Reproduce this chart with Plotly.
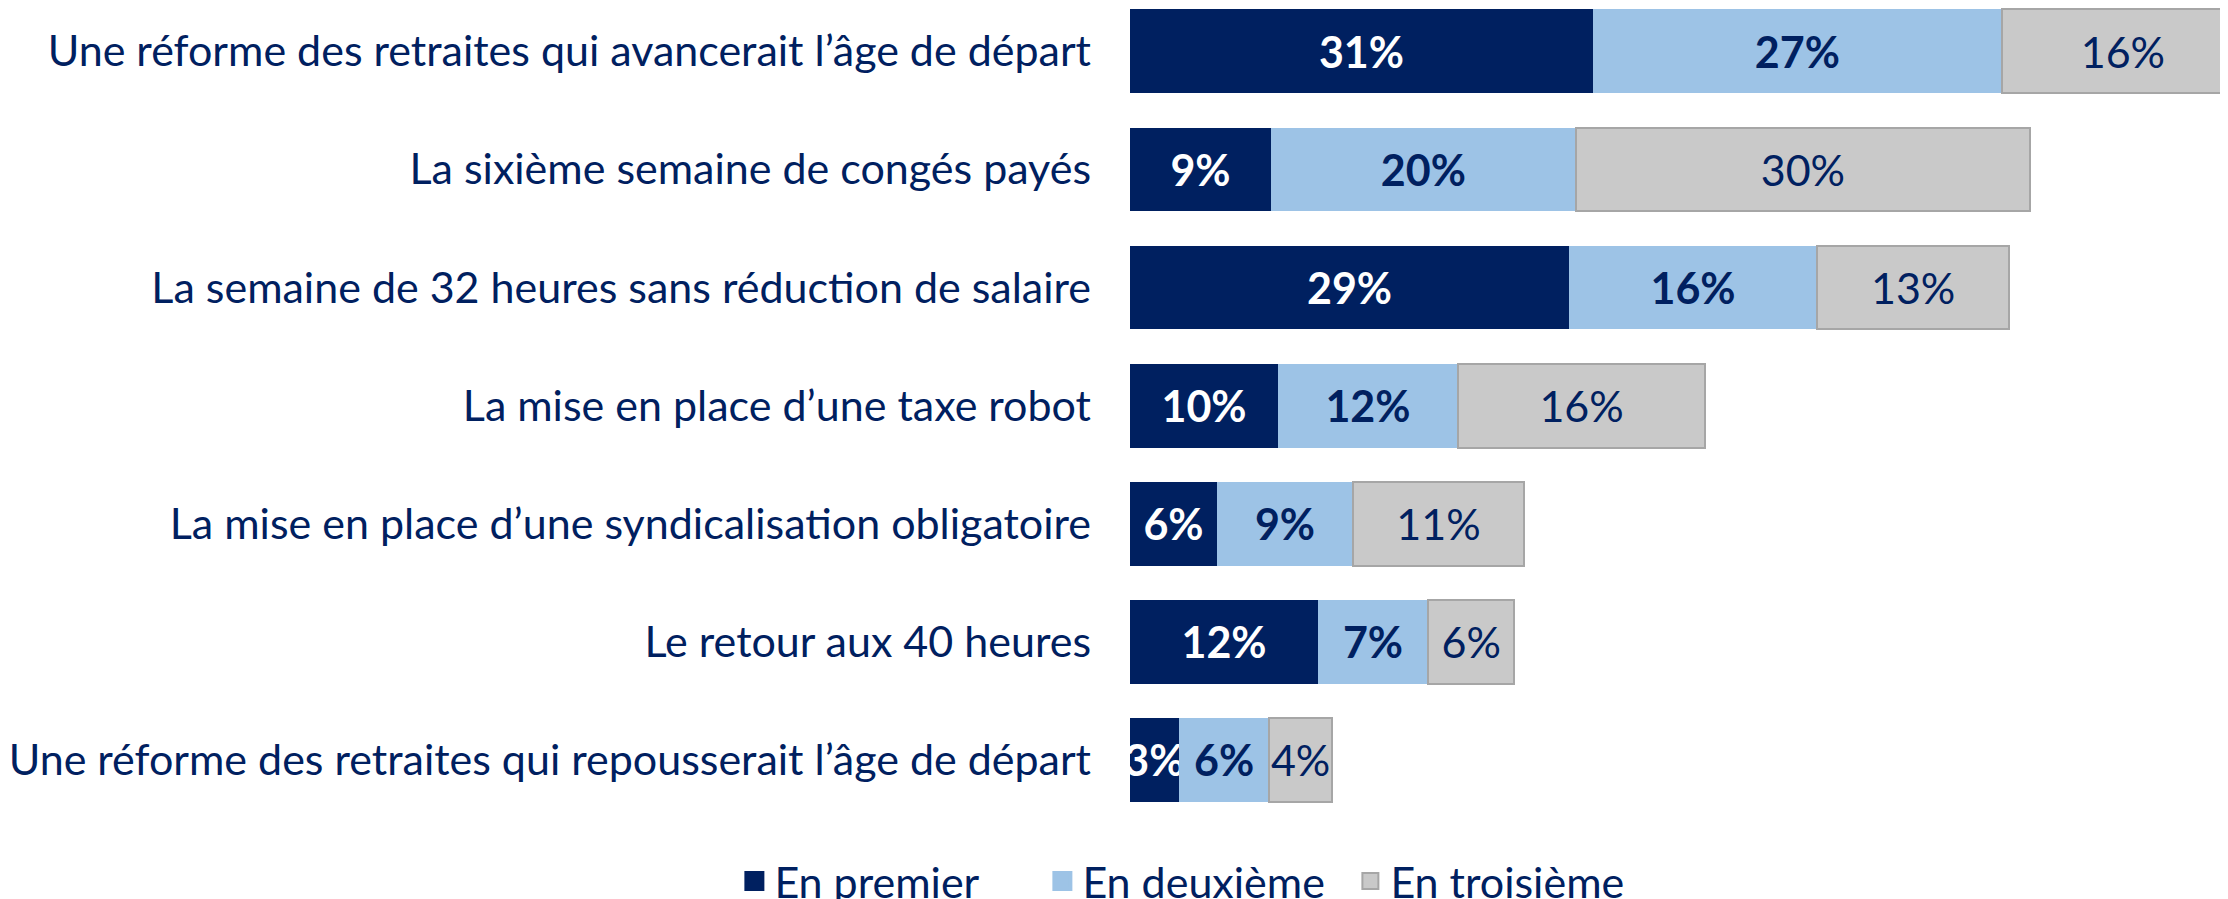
import plotly.graph_objects as go

categories = [
    "Une réforme des retraites qui avancerait l’âge de départ",
    "La sixième semaine de congés payés",
    "La semaine de 32 heures sans réduction de salaire",
    "La mise en place d’une taxe robot",
    "La mise en place d’une syndicalisation obligatoire",
    "Le retour aux 40 heures",
    "Une réforme des retraites qui repousserait l’âge de départ",
]
series_names = ["En premier", "En deuxième", "En troisième"]
premier = [30.56, 9.31, 28.98, 9.77, 5.74, 12.41, 3.23]
deuxieme = [26.98, 20.11, 16.37, 11.88, 8.98, 7.26, 5.96]
troisieme = [16.0, 30.0, 12.69, 16.32, 11.29, 5.70, 4.14]

NAVY = "#002060"
LIGHT = "#9DC3E6"
GRAY = "#C9C9C9"
GRAY_LINE = "#A6A6A6"
FONT = "Lato"
FS = 43

# the page body adds an 8px margin, so the figure is 8px smaller than the window
W, H = 2220, 891
fig = go.Figure()
specs = [
    (premier, series_names[0], NAVY, NAVY, 0, dict(color="white", family=FONT, size=FS, weight="bold")),
    (deuxieme, series_names[1], LIGHT, LIGHT, 0, dict(color=NAVY, family=FONT, size=FS, weight="bold")),
    (troisieme, series_names[2], GRAY, GRAY_LINE, 2, dict(color=NAVY, family=FONT, size=FS)),
]
ypos = list(range(len(categories)))
for vals, name, col, lcol, lw, tf in specs:
    fig.add_trace(go.Bar(
        y=ypos, x=vals, name=name, orientation="h",
        width=0.71, showlegend=False,
        marker=dict(color=col, line=dict(color=lcol, width=lw)),
        texttemplate="%{x:.0f}%", textposition="inside", insidetextanchor="middle",
        textangle=0, constraintext="none", insidetextfont=tf,
        hoverinfo="skip",
    ))
# legend entries (larger square symbols)
for vals, name, col, lcol, lw, tf in specs:
    fig.add_trace(go.Scatter(
        x=[None], y=[None], mode="markers", name=name,
        marker=dict(symbol="square", size=16, color=col,
                    line=dict(color=lcol if lw else col, width=2 if lw else 4)),
        hoverinfo="skip",
    ))

fig.update_layout(
    width=W, height=H, barmode="stack",
    margin=dict(l=1122, r=0, t=0, b=79),
    paper_bgcolor="white", plot_bgcolor="white",
    font=dict(family=FONT, color=NAVY, size=FS),
    showlegend=True,
    legend=dict(orientation="h", xref="container", yref="container",
                x=0.3272, xanchor="left", y=1 - 873 / 891, yanchor="middle",
                font=dict(family=FONT, size=FS, color=NAVY), traceorder="normal",
                itemwidth=30, entrywidth=263, entrywidthmode="pixels"),
    xaxis=dict(range=[0, 72.48], visible=False, fixedrange=True),
    yaxis=dict(range=[6.509, -0.367], tickmode="array",
               tickvals=ypos, ticktext=categories,
               showgrid=False, zeroline=False, showline=False, ticks="",
               ticklabelstandoff=38, tickfont=dict(family=FONT, size=FS, color=NAVY)),
)
fig.write_html("out.html")
